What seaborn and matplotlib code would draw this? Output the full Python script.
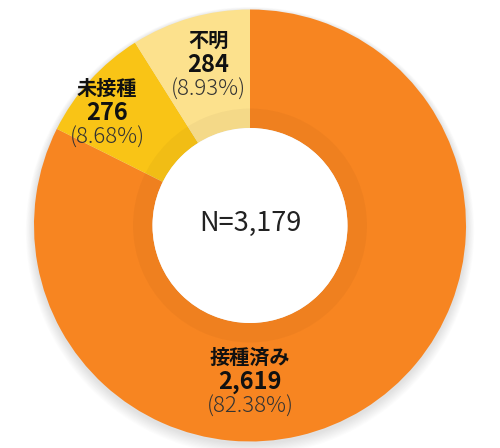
import matplotlib
matplotlib.use("Agg")
import matplotlib.pyplot as plt
import seaborn as sns
from matplotlib.patches import Circle, Wedge

sns.set_theme(style="white")
plt.rcParams['font.family'] = ['Noto Sans CJK JP', 'DejaVu Sans']

categories = ["接種済み", "未接種", "不明"]
counts = [2619, 276, 284]
percents = ["82.38%", "8.68%", "8.93%"]
total_label = "N=3,179"
colors = ["#F78521", "#F9C416", "#FCE18D"]

W, H = 500, 448
fig = plt.figure(figsize=(W / 100, H / 100), dpi=100)
ax = fig.add_axes([0, 0, 1, 1])

cx, cy = 250, H - 225.5
R_out, R_in = 216, 97.5

# soft shadow
for i in range(10):
    ax.add_patch(Circle((cx, cy - 2 - i * 0.4), R_out + 1 + i * 0.8,
                        color="black", alpha=0.012, lw=0, zorder=0))

ax.pie(counts, colors=colors, startangle=90, counterclock=False,
       center=(cx, cy), radius=R_out,
       wedgeprops=dict(width=R_out - R_in, linewidth=0, edgecolor="none"),
       frame=True)

# darker inner ring
ax.add_patch(Wedge((cx, cy), 117, 0, 360, width=117 - R_in,
                   facecolor="black", alpha=0.03, lw=0, zorder=5))
ax.add_patch(Circle((cx, cy), R_in, facecolor="white", lw=0, zorder=6))

label_pos = [(250, 357), (107, 88), (208, 40)]
for (x, y), name, cnt, pct in zip(label_pos, categories, counts, percents):
    ax.text(x, H - y, name, ha="center", va="center", fontsize=14.5,
            fontweight="bold", color="#111111", zorder=10)
    ax.text(x, H - (y + 25), f"{cnt:,}", ha="center", va="center", fontsize=17,
            fontweight="bold", color="#111111", zorder=10)
    ax.text(x, H - (y + 50), f"({pct})", ha="center", va="center", fontsize=16,
            fontweight="light", color="#333333", zorder=10)

ax.text(cx, cy + 2, total_label, ha="center", va="center", fontsize=19.5,
        color="#222222", zorder=10)

ax.set_xlim(0, W)
ax.set_ylim(0, H)
ax.set_aspect("equal")
ax.axis("off")
fig.savefig("out.png", dpi=100)
